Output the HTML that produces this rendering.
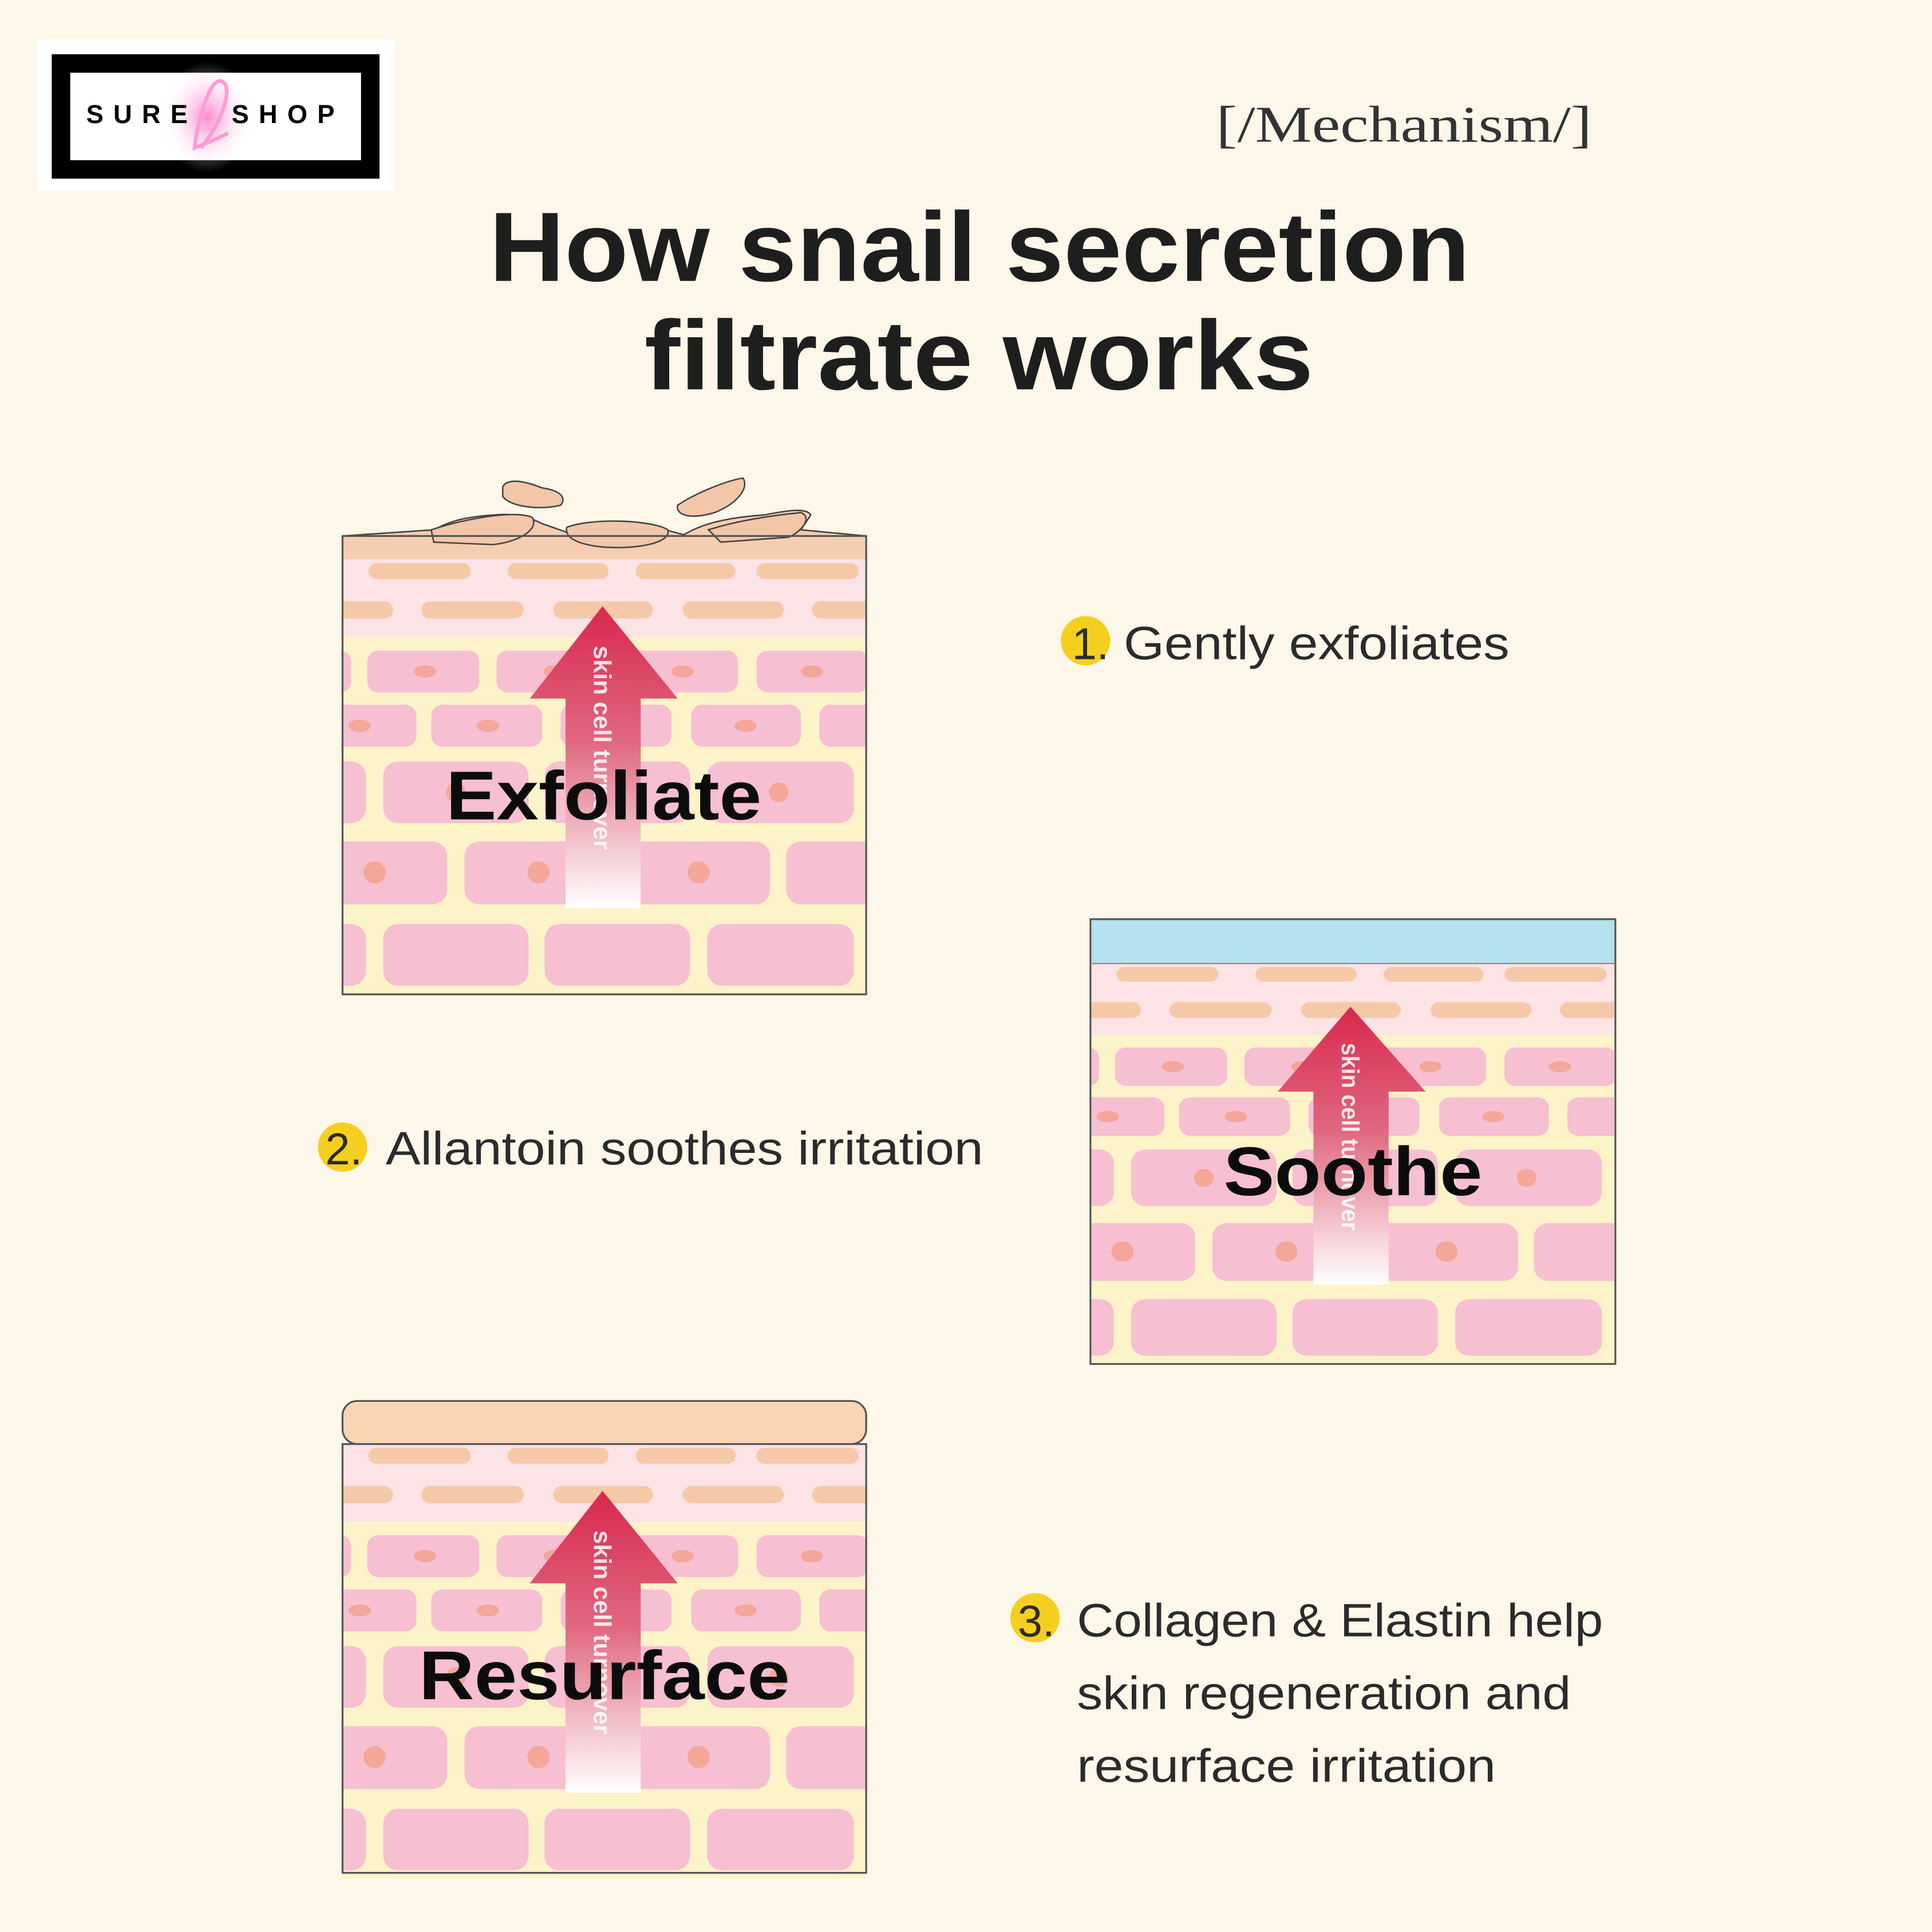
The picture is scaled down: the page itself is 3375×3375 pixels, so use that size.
<!DOCTYPE html>
<html><head><meta charset="utf-8"><style>
html,body{margin:0;padding:0;background:#fdf7ea;}
svg{display:block;}
</style></head><body>
<svg width="3375" height="3375" viewBox="0 0 1568 1568" xmlns="http://www.w3.org/2000/svg">
<defs>
<linearGradient id="ag" x1="0" y1="0" x2="0" y2="1">
<stop offset="0" stop-color="#d9284e"/><stop offset="0.45" stop-color="#e0687f"/><stop offset="1" stop-color="#ffffff"/>
</linearGradient>
<radialGradient id="glow" cx="0.5" cy="0.5" r="0.5">
<stop offset="0" stop-color="#ff7cc8" stop-opacity="0.9"/><stop offset="1" stop-color="#ffffff" stop-opacity="0"/>
</radialGradient>
<clipPath id="cp"><rect x="0" y="0" width="425" height="353"/></clipPath>
<g id="skin">
<g clip-path="url(#cp)">
<rect x="0" y="0" width="425" height="353" fill="#fdf3c9"/>
<rect x="0" y="0" width="425" height="63" fill="#fbe3e6"/>
<g fill="#f5c9a8">
<rect x="21" y="3" width="83" height="13" rx="6.5"/><rect x="134" y="3" width="82" height="13" rx="6.5"/><rect x="238" y="3" width="81" height="13" rx="6.5"/><rect x="336" y="3" width="83" height="13" rx="6.5"/>
<rect x="-20" y="34" width="61" height="14" rx="7"/><rect x="64" y="34" width="83" height="14" rx="7"/><rect x="171" y="34" width="81" height="14" rx="7"/><rect x="276" y="34" width="82" height="14" rx="7"/><rect x="381" y="34" width="60" height="14" rx="7"/>
</g>
<g fill="#f7bfd2">
<rect x="-80" y="74" width="87" height="34" rx="9"/><rect x="20" y="74" width="91" height="34" rx="9"/><rect x="125" y="74" width="91" height="34" rx="9"/><rect x="230" y="74" width="91" height="34" rx="9"/><rect x="336" y="74" width="91" height="34" rx="9"/>
<rect x="-30" y="118" width="90" height="34" rx="9"/><rect x="72" y="118" width="90" height="34" rx="9"/><rect x="177" y="118" width="90" height="34" rx="9"/><rect x="283" y="118" width="89" height="34" rx="9"/><rect x="387" y="118" width="90" height="34" rx="9"/>
<rect x="-100" y="164" width="119" height="50" rx="12"/><rect x="33" y="164" width="118" height="50" rx="12"/><rect x="164" y="164" width="118" height="50" rx="12"/><rect x="296" y="164" width="119" height="50" rx="12"/>
<rect x="-33" y="229" width="118" height="51" rx="12"/><rect x="99" y="229" width="117" height="51" rx="12"/><rect x="229" y="229" width="118" height="51" rx="12"/><rect x="360" y="229" width="118" height="51" rx="12"/>
<rect x="-100" y="296" width="119" height="50" rx="12"/><rect x="33" y="296" width="118" height="50" rx="12"/><rect x="164" y="296" width="118" height="50" rx="12"/><rect x="296" y="296" width="119" height="50" rx="12"/>
</g>
<g fill="#f4a698">
<ellipse cx="67" cy="91" rx="9" ry="5"/><ellipse cx="172" cy="91" rx="9" ry="5"/><ellipse cx="276" cy="91" rx="9" ry="5"/><ellipse cx="381" cy="91" rx="9" ry="5"/>
<ellipse cx="14" cy="135" rx="9" ry="5"/><ellipse cx="118" cy="135" rx="9" ry="5"/><ellipse cx="222" cy="135" rx="9" ry="5"/><ellipse cx="327" cy="135" rx="9" ry="5"/>
<circle cx="92" cy="189" r="8"/><circle cx="223" cy="189" r="8"/><circle cx="354" cy="189" r="8"/>
<circle cx="26" cy="254" r="9"/><circle cx="159" cy="254" r="9"/><circle cx="289" cy="254" r="9"/>
</g>
<path d="M211 38 L272 113 L242 113 L242 283 L181 283 L181 113 L152 113 Z" fill="url(#ag)"/>
<text transform="translate(204,70) rotate(90)" font-family="Liberation Sans, sans-serif" font-size="20" font-weight="bold" fill="#ffffff" fill-opacity="0.85">skin cell turnover</text>
</g>
</g>
</defs>

<rect width="1568" height="1568" fill="#fdf7ea"/>

<!-- logo -->
<rect x="30" y="32" width="290" height="123" fill="#ffffff"/>
<rect x="42" y="44" width="266" height="101" fill="#000"/>
<rect x="57" y="59" width="236" height="71" fill="#fff"/>
<ellipse cx="168" cy="95" rx="38" ry="45" fill="url(#glow)"/>
<path d="M163 120 C180 100 190 70 180 66 C170 62 160 100 158 120 C170 115 178 112 185 108" fill="none" stroke="#ff9bd2" stroke-width="3"/>
<text x="70" y="100" font-family="Liberation Sans, sans-serif" font-weight="bold" font-size="21" letter-spacing="8" fill="#000">SURE</text>
<text x="188" y="100" font-family="Liberation Sans, sans-serif" font-weight="bold" font-size="21" letter-spacing="8" fill="#000">SHOP</text>

<text x="987" y="115" font-family="Liberation Serif, serif" font-size="42" fill="#333" textLength="305" lengthAdjust="spacingAndGlyphs">[/Mechanism/]</text>

<text x="397" y="228" font-family="Liberation Sans, sans-serif" font-weight="bold" font-size="80" fill="#1e1e1e" textLength="796" lengthAdjust="spacingAndGlyphs">How snail secretion</text>
<text x="523" y="316" font-family="Liberation Sans, sans-serif" font-weight="bold" font-size="80" fill="#1e1e1e" textLength="543" lengthAdjust="spacingAndGlyphs">filtrate works</text>

<!-- panel 1 -->
<path d="M278 435 L352 430 C360 426 370 420 400 418 C420 416 430 420 440 425 L460 432 C470 425 500 424 540 430 L555 434 C570 425 590 420 620 418 C640 414 655 412 658 418 L650 430 L703 435 L703 455 L278 455 Z" fill="#f5cdb0" stroke="#444" stroke-width="1.2"/>
<path d="M408 395 C412 388 425 390 440 396 C455 398 460 404 455 410 C440 414 415 412 408 403 Z" fill="#f2c6a9" stroke="#444" stroke-width="1.2"/>
<path d="M350 430 C380 420 420 414 432 420 C438 430 420 440 400 442 L352 440 Z" fill="#f2c6a9" stroke="#444" stroke-width="1.2"/>
<path d="M460 428 C480 420 530 422 542 430 C545 440 520 446 490 444 C468 442 458 436 460 428 Z" fill="#f2c6a9" stroke="#444" stroke-width="1.2"/>
<path d="M550 410 C565 400 590 390 603 388 C608 395 600 408 580 416 C560 422 548 418 550 410 Z" fill="#f2c6a9" stroke="#444" stroke-width="1.2"/>
<path d="M575 430 C600 422 630 418 650 416 C660 420 650 432 640 436 L585 440 Z" fill="#f2c6a9" stroke="#444" stroke-width="1.2"/>
<use href="#skin" x="278" y="454"/>
<rect x="278" y="435" width="425" height="372" fill="none" stroke="#555" stroke-width="1.5"/>
<text x="362" y="665" font-family="Liberation Sans, sans-serif" font-weight="bold" font-size="56" fill="#0c0c0c" textLength="256" lengthAdjust="spacingAndGlyphs">Exfoliate</text>

<!-- panel 2 -->
<rect x="885" y="746" width="426" height="36" fill="#b6e1ef"/>
<g transform="translate(885,782) scale(1,0.92)"><use href="#skin"/></g>
<rect x="885" y="746" width="426" height="361" fill="none" stroke="#555" stroke-width="1.5"/>
<line x1="885" y1="782" x2="1311" y2="782" stroke="#888" stroke-width="1"/>
<text x="993" y="970" font-family="Liberation Sans, sans-serif" font-weight="bold" font-size="56" fill="#0c0c0c" textLength="210" lengthAdjust="spacingAndGlyphs">Soothe</text>

<!-- panel 3 -->
<rect x="278" y="1137" width="425" height="35" rx="12" fill="#f9d4b3" stroke="#555" stroke-width="1.5"/>
<use href="#skin" x="278" y="1172"/>
<rect x="278" y="1172" width="425" height="348" fill="none" stroke="#555" stroke-width="1.5"/>
<text x="340" y="1379" font-family="Liberation Sans, sans-serif" font-weight="bold" font-size="56" fill="#0c0c0c" textLength="301" lengthAdjust="spacingAndGlyphs">Resurface</text>

<!-- labels -->
<g font-family="Liberation Sans, sans-serif" fill="#2b2b2b">
<circle cx="881" cy="520" r="20" fill="#f5cf1f"/>
<text x="870" y="535" font-size="36">1.</text>
<text x="912" y="535" font-size="38" textLength="313" lengthAdjust="spacingAndGlyphs">Gently exfoliates</text>

<circle cx="278" cy="931" r="20" fill="#f5cf1f"/>
<text x="264" y="945" font-size="36">2.</text>
<text x="313" y="945" font-size="38" textLength="485" lengthAdjust="spacingAndGlyphs">Allantoin soothes irritation</text>

<circle cx="840" cy="1313" r="20" fill="#f5cf1f"/>
<text x="826" y="1328" font-size="36">3.</text>
<text x="874" y="1328" font-size="38" textLength="427" lengthAdjust="spacingAndGlyphs">Collagen &amp; Elastin help</text>
<text x="874" y="1387" font-size="38" textLength="401" lengthAdjust="spacingAndGlyphs">skin regeneration and</text>
<text x="874" y="1446" font-size="38" textLength="340" lengthAdjust="spacingAndGlyphs">resurface irritation</text>
</g>
</svg>
</body></html>
